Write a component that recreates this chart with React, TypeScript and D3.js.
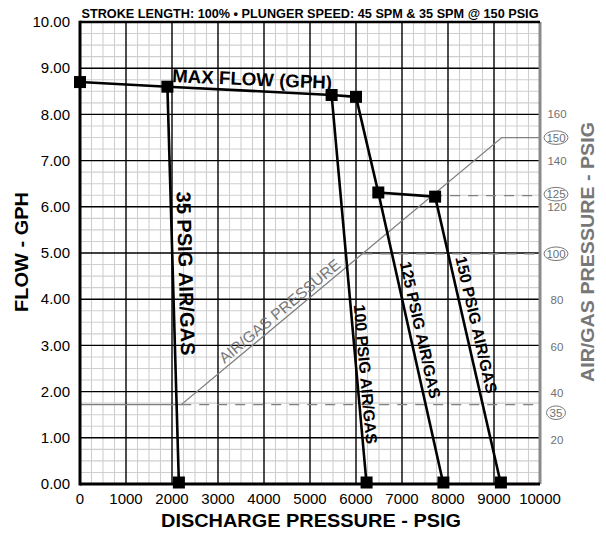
import React from "react";
import * as d3 from "d3";

// ---------- data ----------
const chartTitle = "STROKE LENGTH: 100% • PLUNGER SPEED: 45 SPM & 35 SPM @ 150 PSIG";
const xTitle = "DISCHARGE PRESSURE - PSIG";
const yTitle = "FLOW - GPH";
const rightTitle = "AIR/GAS PRESSURE - PSIG";
const xTicks = [0, 1000, 2000, 3000, 4000, 5000, 6000, 7000, 8000, 9000, 10000];
const yTicks = [0, 1, 2, 3, 4, 5, 6, 7, 8, 9, 10];
const rightTicks = [20, 40, 60, 80, 120, 140, 160];
const circledPressures = [150, 125, 100, 35];

const maxFlowLabel = "MAX FLOW (GPH)";
const maxFlowPsi = [0, 1900, 5470, 6000, 6485, 7720];
const maxFlowGph = [8.7, 8.6, 8.42, 8.38, 6.31, 6.22];

const curveLabels = ["35 PSIG AIR/GAS", "100 PSIG AIR/GAS", "125 PSIG AIR/GAS", "150 PSIG AIR/GAS"];
const curveStartIndex = [1, 2, 4, 5];
const curveEndPsi = [2150, 6230, 7900, 9150];

const airLabel = "AIR/GAS PRESSURE";
const airPsi = [0, 2200, 9170, 10000];
const airPressure = [35, 35, 150, 150];
const dashedLevels = [35, 100, 125];

// ---------- layout ----------
const W = 606, H = 533;
const L = 80, R = 540, T = 22, B = 484;
const FONT = "'Liberation Sans', Arial, Helvetica, sans-serif";
const curveLabelT = [0.471, 0.72, 0.48, 0.455];
const curveLabelOff = [13, 8.6, 11, 11.5];
const curveLabelSize = [20, 16, 16, 16];
const circleDy = [0, -1.5, 0, 8];

export default function App() {
  const x = d3.scaleLinear().domain([0, 10000]).range([L, R]);
  const y = d3.scaleLinear().domain([0, 10]).range([B, T]);
  const yR = d3.scaleLinear().domain([0, 160]).range([B + 2, y(8)]);

  const minorX = d3.range(0, 10001, 250).filter((v) => v % 1000 !== 0);
  const minorY = d3.range(0, 10.001, 0.25).filter((v) => Math.abs(v - Math.round(v)) > 1e-6);

  const maxLine = d3.line<number>().x((_, i) => x(maxFlowPsi[i])).y((_, i) => y(maxFlowGph[i]));
  const airLine = d3.line<number>().x((_, i) => x(airPsi[i])).y((_, i) => yR(airPressure[i]));
  const levelToPsi = d3.scaleLinear().domain([airPressure[1], airPressure[2]]).range([airPsi[1], airPsi[2]]);

  const sq = 12;
  const markers: [number, number][] = [];
  maxFlowPsi.forEach((p, i) => markers.push([x(p), y(maxFlowGph[i])]));
  curveEndPsi.forEach((p) => markers.push([x(p), y(0) - 1.5]));

  // air label placement
  const ax0 = x(airPsi[1]), ay0 = yR(airPressure[1]);
  const ax1 = x(airPsi[2]), ay1 = yR(airPressure[2]);
  const aAng = (Math.atan2(ay1 - ay0, ax1 - ax0) * 180) / Math.PI;
  const aRad = (aAng * Math.PI) / 180;
  const at = 0.325, aoff = 9;
  const acx = ax0 + (ax1 - ax0) * at + aoff * Math.sin(aRad);
  const acy = ay0 + (ay1 - ay0) * at - aoff * Math.cos(aRad);

  return (
    <svg width={W} height={H} style={{ position: "absolute", left: 0, top: 0, background: "#fff" }} fontFamily={FONT}>
      <rect x={0} y={0} width={W} height={H} fill="#fff" />
      {/* title */}
      <text x={310} y={17.5} textAnchor="middle" fontSize={13} fontWeight="bold" textLength={457} lengthAdjust="spacingAndGlyphs">
        {chartTitle}
      </text>

      {/* minor grid */}
      <g stroke="#cfcfcf" strokeWidth={1.1}>
        {minorX.map((v) => (
          <line key={"mx" + v} x1={x(v)} x2={x(v)} y1={T} y2={B} />
        ))}
        {minorY.map((v) => (
          <line key={"my" + v} x1={L} x2={R} y1={y(v)} y2={y(v)} />
        ))}
      </g>
      {/* major grid */}
      <g stroke="#000" strokeWidth={1.4}>
        {xTicks.slice(1, -1).map((v) => (
          <line key={"Mx" + v} x1={x(v)} x2={x(v)} y1={T} y2={B} />
        ))}
        {yTicks.slice(1, -1).map((v) => (
          <line key={"My" + v} x1={L} x2={R} y1={y(v)} y2={y(v)} />
        ))}
      </g>

      {/* air/gas pressure */}
      <g stroke="#808080" fill="none">
        {dashedLevels.map((lv) => {
          const start = lv <= airPressure[1] ? airPsi[1] : levelToPsi(lv);
          return (
            <line key={"dl" + lv} x1={x(start)} x2={R} y1={yR(lv)} y2={yR(lv)} strokeWidth={1.3} strokeDasharray="10,8" />
          );
        })}
        <path d={airLine(airPsi) || ""} strokeWidth={1.3} />
      </g>
      <text
        x={acx}
        y={acy}
        transform={`rotate(${aAng},${acx},${acy})`}
        textAnchor="middle"
        dominantBaseline="central"
        fontSize={15.5}
        fill="#777"
      >
        {airLabel}
      </text>

      {/* borders */}
      <line x1={R} x2={R} y1={T} y2={B} stroke="#8a8a8a" strokeWidth={3} />
      <line x1={L} x2={R} y1={T} y2={T} stroke="#000" strokeWidth={2.6} />
      <line x1={L} x2={L} y1={T - 1.3} y2={B + 1.5} stroke="#000" strokeWidth={3} />
      <line x1={L} x2={R} y1={B} y2={B} stroke="#000" strokeWidth={3} />

      {/* curves */}
      <g stroke="#000" strokeWidth={2.6} fill="none">
        <path d={maxLine(maxFlowPsi) || ""} />
        {curveStartIndex.map((si, k) => (
          <line key={"c" + k} x1={x(maxFlowPsi[si])} y1={y(maxFlowGph[si])} x2={x(curveEndPsi[k])} y2={y(0)} />
        ))}
      </g>
      <g fill="#000">
        {markers.map(([mx, my], i) => (
          <rect key={"m" + i} x={mx - sq / 2} y={my - sq / 2} width={sq} height={sq} />
        ))}
      </g>

      {/* curve labels */}
      {curveStartIndex.map((si, k) => {
        const x0 = x(maxFlowPsi[si]), y0 = y(maxFlowGph[si]);
        const x1 = x(curveEndPsi[k]), y1 = y(0);
        const ang = (Math.atan2(y1 - y0, x1 - x0) * 180) / Math.PI;
        const r = (ang * Math.PI) / 180;
        const t = curveLabelT[k], off = curveLabelOff[k];
        const cx = x0 + (x1 - x0) * t + off * Math.sin(r);
        const cy = y0 + (y1 - y0) * t - off * Math.cos(r);
        return (
          <text
            key={"cl" + k}
            x={cx}
            y={cy}
            transform={`rotate(${ang},${cx},${cy})`}
            textAnchor="middle"
            dominantBaseline="central"
            fontSize={curveLabelSize[k]}
            fontWeight="bold"
          >
            {curveLabels[k]}
          </text>
        );
      })}
      <text x={172} y={82} transform="rotate(2.5,172,82)" fontSize={18.5} fontWeight="bold" textLength={160} lengthAdjust="spacingAndGlyphs">
        {maxFlowLabel}
      </text>

      {/* left axis labels */}
      {yTicks.map((v) => (
        <text key={"yl" + v} x={70} y={y(v)} dy="0.35em" textAnchor="end" fontSize={15}>
          {v.toFixed(2)}
        </text>
      ))}
      {/* bottom axis labels */}
      {xTicks.map((v) => (
        <text key={"xl" + v} x={x(v)} y={504} textAnchor="middle" fontSize={15}>
          {v}
        </text>
      ))}
      {/* right axis labels */}
      {rightTicks.map((v) => (
        <text key={"rl" + v} x={557} y={yR(v) + 4} textAnchor="middle" fontSize={11.5} fill="#707070">
          {v}
        </text>
      ))}
      {circledPressures.map((v, i) => {
        const cy = yR(v) + circleDy[i];
        const rx = String(v).length > 2 ? 12 : 9.5;
        return (
          <g key={"cp" + v}>
            <ellipse cx={556} cy={cy} rx={rx} ry={6.8} fill="#fff" stroke="#777" strokeWidth={1} />
            <text x={556} y={cy} dy="0.36em" textAnchor="middle" fontSize={11.5} fill="#707070">
              {v}
            </text>
          </g>
        );
      })}

      {/* axis titles */}
      <text x={311} y={527} textAnchor="middle" fontSize={19} fontWeight="bold" textLength={300} lengthAdjust="spacingAndGlyphs">
        {xTitle}
      </text>
      <text x={28} y={252} transform="rotate(-90,28,252)" textAnchor="middle" fontSize={19} fontWeight="bold" textLength={120} lengthAdjust="spacingAndGlyphs">
        {yTitle}
      </text>
      <text x={594} y={252} transform="rotate(-90,594,252)" textAnchor="middle" fontSize={19} fontWeight="bold" fill="#777" textLength={260} lengthAdjust="spacingAndGlyphs">
        {rightTitle}
      </text>
    </svg>
  );
}
